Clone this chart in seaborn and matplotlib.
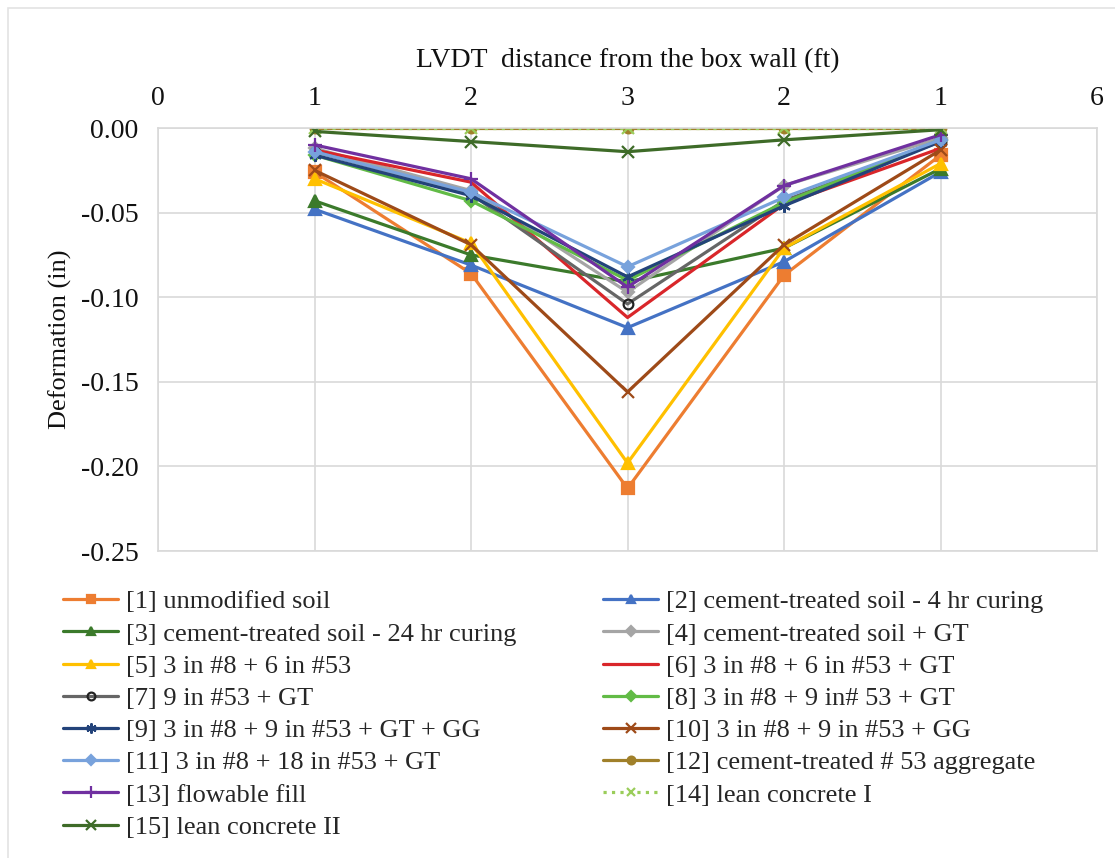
import numpy as np
import pandas as pd
import seaborn as sns
import matplotlib.pyplot as plt
from matplotlib.patches import Rectangle

# LVDT positions along the box and their labels (distance from the wall)
positions = [1, 2, 3, 4, 5]
tick_pos = [0, 1, 2, 3, 4, 5, 6]
tick_labels = ['0', '1', '2', '3', '2', '1', '6']
y_ticks = [-0.25, -0.20, -0.15, -0.10, -0.05, 0.0]
y_labels = ['-0.25', '-0.20', '-0.15', '-0.10', '-0.05', '0.00']

# deformation (in), one list per test section
unmodified = [-0.026, -0.086, -0.213, -0.087, -0.016]
cement_4hr = [-0.048, -0.081, -0.118, -0.079, -0.026]
cement_24hr = [-0.043, -0.075, -0.091, -0.071, -0.024]
cement_gt = [-0.012, -0.037, -0.097, -0.034, -0.006]
agg_8_6 = [-0.030, -0.068, -0.198, -0.071, -0.021]
agg_8_6_gt = [-0.013, -0.032, -0.112, -0.045, -0.012]
agg_9_gt = [-0.014, -0.039, -0.104, -0.043, -0.008]
agg_8_9_gt = [-0.016, -0.043, -0.090, -0.044, -0.007]
agg_8_9_gt_gg = [-0.016, -0.040, -0.088, -0.046, -0.008]
agg_8_9_gg = [-0.025, -0.069, -0.156, -0.069, -0.013]
agg_8_18_gt = [-0.014, -0.038, -0.082, -0.041, -0.007]
cement_agg = [0.0, 0.0, 0.0, 0.0, 0.0]
flowable = [-0.010, -0.030, -0.094, -0.034, -0.004]
lean_1 = [0.0, 0.0, 0.0, 0.0, 0.0]
lean_2 = [-0.002, -0.008, -0.014, -0.007, -0.001]

labels = ['[1] unmodified soil',
          '[2] cement-treated soil - 4 hr curing',
          '[3] cement-treated soil - 24 hr curing',
          '[4] cement-treated soil + GT',
          '[5] 3 in #8 + 6 in #53',
          '[6] 3 in #8 + 6 in #53 + GT',
          '[7] 9 in #53 + GT',
          '[8] 3 in #8 + 9 in# 53 + GT',
          '[9] 3 in #8 + 9 in #53 + GT + GG',
          '[10] 3 in #8 + 9 in #53 + GG',
          '[11] 3 in #8 + 18 in #53 + GT',
          '[12] cement-treated # 53 aggregate',
          '[13] flowable fill',
          '[14] lean concrete I',
          '[15] lean concrete II']
series = [unmodified, cement_4hr, cement_24hr, cement_gt, agg_8_6, agg_8_6_gt,
          agg_9_gt, agg_8_9_gt, agg_8_9_gt_gg, agg_8_9_gg, agg_8_18_gt,
          cement_agg, flowable, lean_1, lean_2]

colors = ['#ED7D31', '#4472C4', '#3B7A2B', '#A5A5A5', '#FFC000', '#D9262A',
          '#666666', '#62BB46', '#23437A', '#9E4A18', '#78A2DC', '#A0802A',
          '#7030A0', '#9ACD5A', '#3E6B28']
markers = ['s', '^', '^', 'D', '^', None, 'o', 'D', (6, 2, 0), 'x', 'D', 'o',
           '+', 'x', 'x']
msizes = [8, 8, 8, 6, 8, 0, 7, 6, 9, 9, 6, 7, 10, 8, 9]
styles = ['-'] * 13 + [':', '-']

sns.set_theme(style='white')
plt.rcParams['font.family'] = ['Liberation Serif', 'DejaVu Serif']

fig = plt.figure(figsize=(11.15, 8.58), dpi=100)
ax = fig.add_axes([0.1417, 0.3578, 0.8422, 0.493])

handles = []
for lab, vals, c, m, ms, ls in zip(labels, series, colors, markers, msizes, styles):
    df = pd.DataFrame({'pos': positions, 'def': vals})
    sns.lineplot(data=df, x='pos', y='def', ax=ax, color=c, linewidth=2.3,
                 linestyle=ls, marker=m, markersize=ms, markeredgewidth=1.6,
                 markeredgecolor=('#222222' if lab.startswith('[7]') else c),
                 markerfacecolor=('none' if lab.startswith('[7]') else c),
                 label=lab, legend=False)
    handles.append(ax.lines[-1])

ax.set_xlim(0, 6)
ax.set_ylim(-0.25, 0.0)
ax.set_xticks(tick_pos)
ax.set_xticklabels(tick_labels)
ax.set_yticks(y_ticks)
ax.set_yticklabels(y_labels)
ax.xaxis.tick_top()
ax.xaxis.set_label_position('top')
ax.tick_params(axis='both', length=0, labelsize=20, colors='#111111')
ax.tick_params(axis='x', pad=12)
ax.tick_params(axis='y', pad=14)
ax.set_xlabel('LVDT  distance from the box wall (ft)', fontsize=20,
              labelpad=14, color='#111111')
ax.set_ylabel('Deformation (in)', fontsize=19, labelpad=6, color='#111111')
ax.grid(True, color='#D9D9D9', linewidth=1.2)
for sp in ax.spines.values():
    sp.set_color('#D9D9D9')
    sp.set_linewidth(1.2)

# legend in two columns: odd entries left, even entries right
leg_kw = dict(frameon=False, fontsize=19, handlelength=2.1, handletextpad=0.3,
              labelspacing=0.33, borderpad=0, borderaxespad=0, loc='upper left',
              markerscale=0.8)
left = fig.legend([handles[i] for i in range(0, 15, 2)],
                  [labels[i] for i in range(0, 15, 2)],
                  bbox_to_anchor=(63 / 1115, 1 - 590 / 858), **leg_kw)
right = fig.legend([handles[i] for i in range(1, 15, 2)],
                   [labels[i] for i in range(1, 15, 2)],
                   bbox_to_anchor=(603 / 1115, 1 - 590 / 858), **leg_kw)

# faint frame around the whole chart
fig.patches.append(Rectangle((8 / 1115, -0.01), 1.0, 1 - 8 / 858 + 0.01,
                             transform=fig.transFigure, fill=False,
                             edgecolor='#E3E3E3', linewidth=1.2))

fig.savefig('out.png', dpi=100)
